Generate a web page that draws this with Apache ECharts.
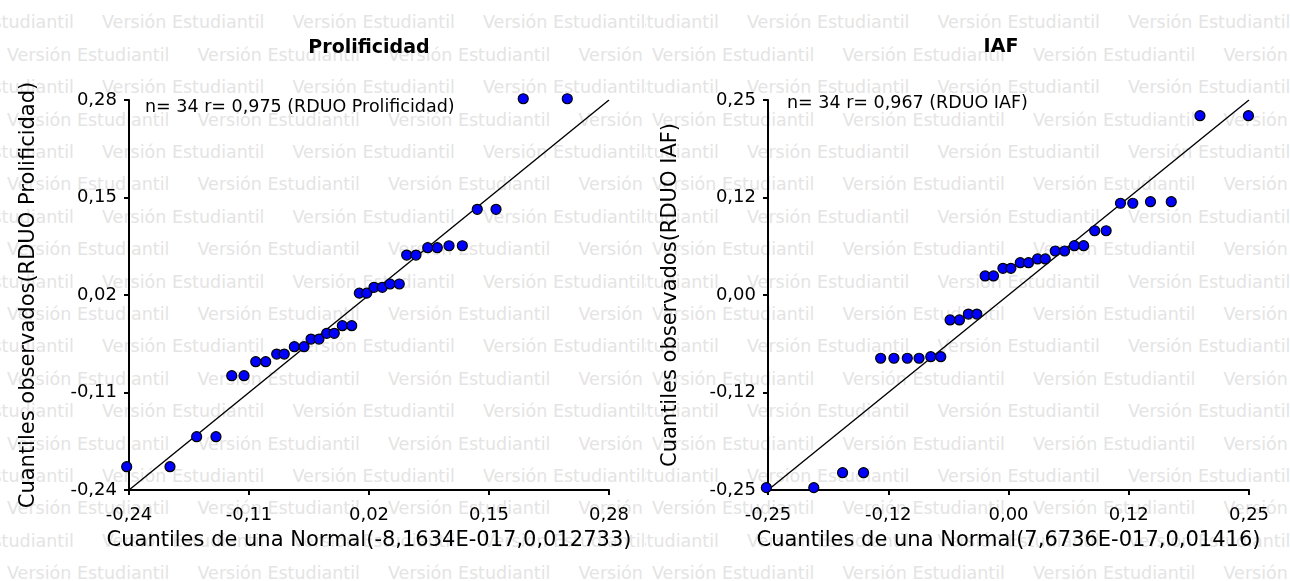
<!DOCTYPE html>
<html>
<head>
<meta charset="utf-8">
<title>Q-Q plot RDUO</title>
<script src="https://cdn.jsdelivr.net/npm/echarts@6/dist/echarts.min.js"></script>
<style>
  html, body { margin: 0; padding: 0; background: #fff; }
  .lienzo { position: relative; width: 1290px; height: 581px; overflow: hidden; }
  .marca { position: absolute; top: 0; width: 645px; height: 581px; overflow: hidden; }
  .marca span {
    position: absolute;
    white-space: pre;
    font-family: "DejaVu Sans";
    font-size: 17.5px;
    line-height: 18px;
    color: #e4e4e4;
  }
  #main1 { position: absolute; left: 0; top: 0; width: 1290px; height: 581px; z-index: 1; }
</style>
</head>
<body>
<div class="lienzo">
  <div class="marca" id="marca0" style="left:0"></div>
  <div class="marca" id="marca1" style="left:645px"></div>
  <div id="main1"></div>
</div>
<script>
// Prolificidad: cuantiles teoricos (x) y observados (y)
var prolifTeo = [-0.2425, -0.1956, -0.1667, -0.1458, -0.1287, -0.1154, -0.1027, -0.0919, -0.0800, -0.0718,
  -0.0609, -0.0504, -0.0428, -0.0342, -0.0258, -0.0176, -0.0089, 0.0013, 0.0095, 0.0175,
  0.0254, 0.0344, 0.0428, 0.0528, 0.0608, 0.0709, 0.0836, 0.0940, 0.1067, 0.1211,
  0.1373, 0.1576, 0.1871, 0.2348];
var prolifObs = [-0.2089, -0.2089, -0.1689, -0.1689, -0.0876, -0.0876, -0.0689, -0.0689, -0.0587, -0.0587,
  -0.0489, -0.0489, -0.0387, -0.0387, -0.0311, -0.0311, -0.0209, -0.0209, 0.0225, 0.0225,
  0.0303, 0.0303, 0.0347, 0.0347, 0.0733, 0.0733, 0.0831, 0.0831, 0.0857, 0.0857,
  0.1343, 0.1343, 0.2817, 0.2817];

// IAF
var iafTeo = [-0.2517, -0.2024, -0.1725, -0.1507, -0.1329, -0.1191, -0.1052, -0.0930, -0.0808, -0.0704,
  -0.0607, -0.0510, -0.0417, -0.0329, -0.0243, -0.0156, -0.0058, 0.0025, 0.0122, 0.0208,
  0.0302, 0.0382, 0.0486, 0.0583, 0.0684, 0.0781, 0.0896, 0.1015, 0.1164, 0.1292,
  0.1476, 0.1692, 0.1990, 0.2494];
var iafObs = [-0.2470, -0.2470, -0.2278, -0.2278, -0.0811, -0.0811, -0.0811, -0.0811, -0.0791, -0.0791,
  -0.0320, -0.0320, -0.0244, -0.0244, 0.0244, 0.0244, 0.0342, 0.0342, 0.0414, 0.0414,
  0.0462, 0.0462, 0.0564, 0.0564, 0.0632, 0.0632, 0.0824, 0.0824, 0.1176, 0.1176,
  0.1196, 0.1196, 0.2299, 0.2299];

// ticks de los ejes
var ticksProlif = [-0.24, -0.11, 0.02, 0.15, 0.28];
var etiquetasProlif = ["-0,24", "-0,11", "0,02", "0,15", "0,28"];
var ticksIaf = [-0.25, -0.125, 0, 0.125, 0.25];
var etiquetasIaf = ["-0,25", "-0,12", "0,00", "0,12", "0,25"];

var titulos = ["Prolificidad", "IAF"];
var notas = ["n= 34 r= 0,975 (RDUO Prolificidad)", "n= 34 r= 0,967 (RDUO IAF)"];
var nombresX = ["Cuantiles de una Normal(-8,1634E-017,0,012733)", "Cuantiles de una Normal(7,6736E-017,0,01416)"];
var nombresY = ["Cuantiles observados(RDUO Prolificidad)", "Cuantiles observados(RDUO IAF)"];

var fuente = "DejaVu Sans";

// marca de agua "Versión Estudiantil"
[0, 1].forEach(function (p) {
  var caja = document.getElementById("marca" + p);
  var html = "";
  for (var k = 0; k < 18; k++) {
    var yc = 22 + 32.4 * k;
    var x0 = k % 2 === 0 ? 102 - 190.5 : 7;
    for (var x = x0; x < 645; x += 190.5) {
      html += '<span style="left:' + x + "px;top:" + (yc - 8.7) + 'px">Versión Estudiantil</span>';
    }
  }
  caja.innerHTML = html;
});

function formato(ticks, etiquetas) {
  return function (v) {
    for (var i = 0; i < ticks.length; i++) {
      if (Math.abs(ticks[i] - v) < 1e-9) return etiquetas[i];
    }
    return "";
  };
}

function eje(idx, ticks, etiquetas, nombre, esX, gap) {
  return {
    gridIndex: idx,
    type: "value",
    min: ticks[0],
    max: ticks[ticks.length - 1],
    name: nombre,
    nameLocation: "middle",
    nameGap: gap,
    nameTextStyle: { fontFamily: fuente, fontSize: 21, color: "#000" },
    axisLine: { show: true, onZero: false, lineStyle: { color: "#000", width: 2 } },
    axisTick: { show: true, length: 5, customValues: ticks, lineStyle: { color: "#000", width: 2 } },
    axisLabel: {
      customValues: ticks,
      formatter: formato(ticks, etiquetas),
      margin: esX ? 16 : 12,
      fontFamily: fuente,
      fontSize: 18,
      color: "#000",
    },
    splitLine: { show: false },
  };
}

function puntos(xs, ys) {
  return xs.map(function (x, i) {
    return [x, ys[i]];
  });
}

var chartDom = document.getElementById("main1");
var myChart = echarts.init(chartDom);

var option = {
  animation: false,
  grid: [
    { left: 129, top: 100, width: 480, height: 390 },
    { left: 768, top: 100, width: 481, height: 390 },
  ],
  xAxis: [
    eje(0, ticksProlif, etiquetasProlif, nombresX[0], true, 40),
    eje(1, ticksIaf, etiquetasIaf, nombresX[1], true, 40),
  ],
  yAxis: [
    eje(0, ticksProlif, etiquetasProlif, nombresY[0], false, 90),
    eje(1, ticksIaf, etiquetasIaf, nombresY[1], false, 87),
  ],
  graphic: [
    { type: "text", x: 369, y: 48, style: { text: titulos[0], font: "bold 19px " + fuente, fill: "#000", align: "center", verticalAlign: "middle" } },
    { type: "text", x: 1001, y: 47, style: { text: titulos[1], font: "bold 19px " + fuente, fill: "#000", align: "center", verticalAlign: "middle" } },
    { type: "text", x: 145, y: 107, style: { text: notas[0], font: "17.5px " + fuente, fill: "#000", align: "left", verticalAlign: "middle" } },
    { type: "text", x: 787, y: 103, style: { text: notas[1], font: "17.5px " + fuente, fill: "#000", align: "left", verticalAlign: "middle" } },
  ],
  series: [
    {
      type: "line",
      xAxisIndex: 0,
      yAxisIndex: 0,
      data: [[ticksProlif[0], ticksProlif[0]], [ticksProlif[4], ticksProlif[4]]],
      symbol: "none",
      lineStyle: { color: "#000", width: 1.4 },
      silent: true,
      z: 2,
    },
    {
      type: "scatter",
      xAxisIndex: 0,
      yAxisIndex: 0,
      data: puntos(prolifTeo, prolifObs),
      symbolSize: 10,
      clip: false,
      itemStyle: { color: "#0000ff", borderColor: "#000", borderWidth: 1.2, opacity: 1 },
      z: 3,
    },
    {
      type: "line",
      xAxisIndex: 1,
      yAxisIndex: 1,
      data: [[ticksIaf[0], ticksIaf[0]], [ticksIaf[4], ticksIaf[4]]],
      symbol: "none",
      lineStyle: { color: "#000", width: 1.4 },
      silent: true,
      z: 2,
    },
    {
      type: "scatter",
      xAxisIndex: 1,
      yAxisIndex: 1,
      data: puntos(iafTeo, iafObs),
      symbolSize: 10,
      clip: false,
      itemStyle: { color: "#0000ff", borderColor: "#000", borderWidth: 1.2, opacity: 1 },
      z: 3,
    },
  ],
};
option && myChart.setOption(option);
</script>
</body>
</html>
